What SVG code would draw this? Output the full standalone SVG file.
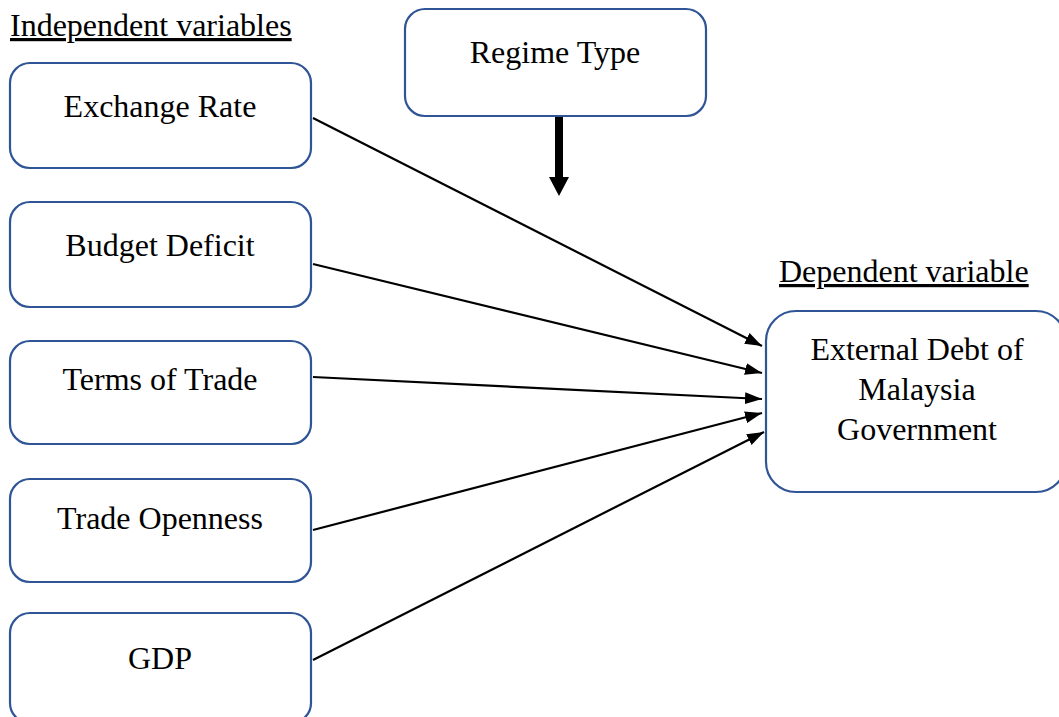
<svg xmlns="http://www.w3.org/2000/svg" width="1059" height="717" viewBox="0 0 1059 717">
<style>
.box{fill:#fff;stroke:#2F5597;stroke-width:2.2}
.t{font-family:"Liberation Serif","Times New Roman",serif;font-size:32px;fill:#000;text-anchor:middle}
.h{font-family:"Liberation Serif","Times New Roman",serif;font-size:32px;fill:#000;text-decoration:underline}
.c{stroke:#000;stroke-width:2.2;fill:none;marker-end:url(#ah)}
</style>
<defs>
<marker id="ah" markerWidth="17" markerHeight="12" refX="17" refY="6" orient="auto" markerUnits="userSpaceOnUse" viewBox="0 0 17 12">
<path d="M0,0 L17,6 L0,12 Z" fill="#000"/>
</marker>
</defs>
<rect width="1059" height="717" fill="#fff"/>
<text class="h" x="10" y="36">Independent variables</text>
<text class="h" x="779" y="282">Dependent variable</text>
<g id="connectors">
<line class="c" x1="313" y1="118" x2="762" y2="346"/>
<line class="c" x1="313" y1="264" x2="762" y2="373"/>
<line class="c" x1="313" y1="377" x2="762" y2="399"/>
<line class="c" x1="313" y1="530" x2="762" y2="413"/>
<line class="c" x1="313" y1="660" x2="764" y2="432"/>
<path d="M555,117 L563,117 L563,177 L569,177 L559,196 L549,177 L555,177 Z" fill="#000"/>
</g>
<g id="exchange-rate"><rect class="box" x="10" y="63" width="301" height="105" rx="20"/><text class="t" x="160" y="117">Exchange Rate</text></g>
<g id="budget-deficit"><rect class="box" x="10" y="202" width="301" height="105" rx="20"/><text class="t" x="160" y="256">Budget Deficit</text></g>
<g id="terms-of-trade"><rect class="box" x="10" y="341" width="301" height="103" rx="20"/><text class="t" x="160" y="390">Terms of Trade</text></g>
<g id="trade-openness"><rect class="box" x="10" y="479" width="301" height="103" rx="20"/><text class="t" x="160" y="529">Trade Openness</text></g>
<g id="gdp"><rect class="box" x="10" y="613" width="301" height="110" rx="20"/><text class="t" x="160" y="669">GDP</text></g>
<g id="regime-type"><rect class="box" x="405" y="9" width="301" height="107" rx="20"/><text class="t" x="555" y="63">Regime Type</text></g>
<g id="external-debt"><rect class="box" x="766" y="311" width="300" height="181" rx="30"/><text class="t" x="917" y="360">External Debt of</text><text class="t" x="917" y="400">Malaysia</text><text class="t" x="917" y="440">Government</text></g>
</svg>
